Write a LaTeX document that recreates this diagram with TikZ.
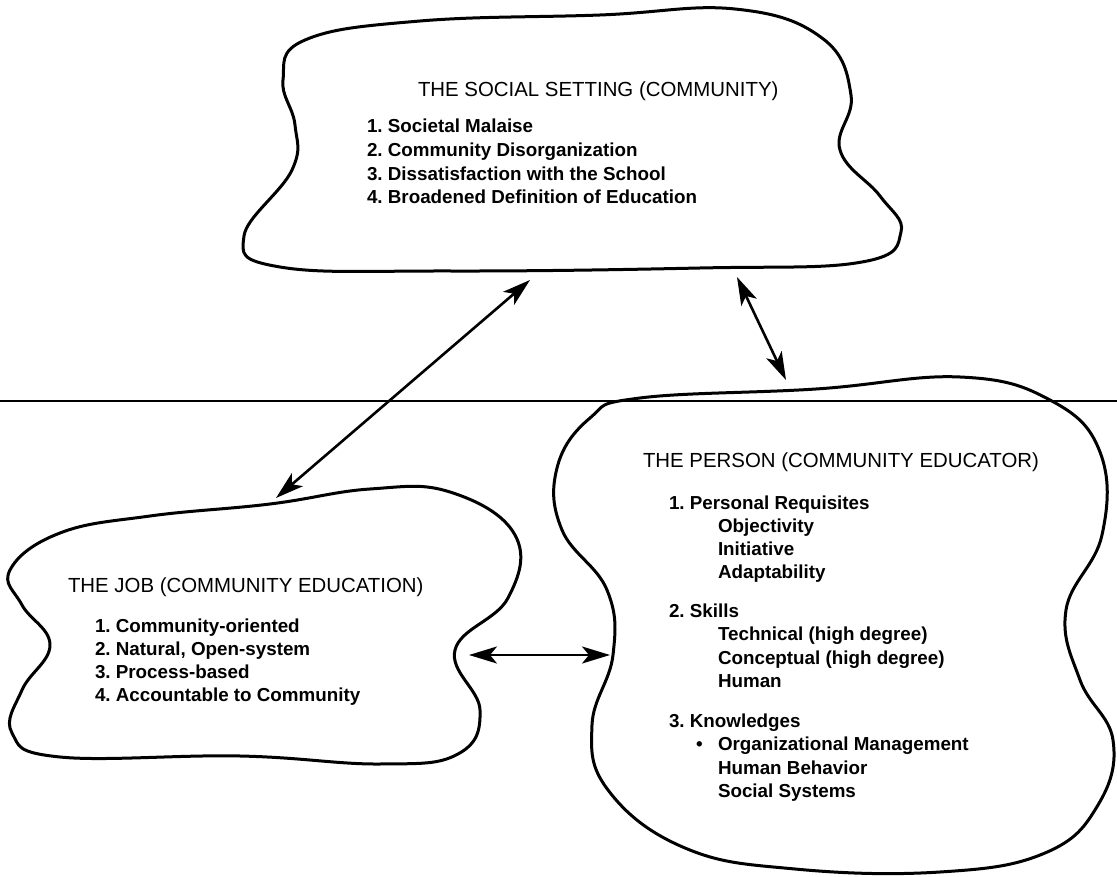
\documentclass[tikz,border=0pt]{standalone}
\usepackage{fontspec}
\setmainfont{Liberation Sans}
\usetikzlibrary{arrows.meta}

\begin{document}
\begin{tikzpicture}[x=1pt,y=-1pt]
    \tikzstyle{every node}=[inner sep=0,outer sep=0]
    \tikzstyle{cloud}=[line width=3pt,line join=round]
    \tikzstyle{heading}=[anchor=base west,font=\fontsize{20.4}{24}\selectfont]
    \tikzstyle{item}=[anchor=base west,font=\fontsize{18.8}{23}\selectfont\bfseries]
    \tikzstyle{link}=[<->,>={Stealth[length=28pt,width=17pt,inset=7pt]},line width=2.6pt]
    \useasboundingbox (0,0) rectangle (1117,877);

    % fold of the page
    \draw[line width=1.1pt] (0,401) -- (1117,401);

    % social setting
    \draw[cloud] plot[smooth cycle,tension=0.7] coordinates {
        (305,40) (420,21) (600,15) (735,9) (822,38) (851,95) (840,150)
        (880,196) (901,232) (862,262) (700,268) (450,271) (280,267)
        (244,236) (292,170) (295,125) (283,80)};
    \node[heading] (social) at (418,97) {THE SOCIAL SETTING (COMMUNITY)};
    \foreach \txt [count=\i] in {Societal Malaise, Community Disorganization,
        Dissatisfaction with the School, Broadened Definition of Education} {
        \node[item] (s\i) at (367, 133+23.6*\i-23.6) {\i.~\txt};
    }

    % job
    \draw[cloud] plot[smooth cycle,tension=0.7] coordinates {
        (10,570) (60,533) (150,516) (270,504) (370,489) (450,492)
        (515,535) (508,598) (455,650) (480,710) (458,754) (380,764)
        (240,756) (60,757) (12,733) (22,690) (50,645) (22,605)};
    \node[heading] (job) at (68,592) {THE JOB (COMMUNITY EDUCATION)};
    \foreach \txt [count=\i] in {Community-oriented, {Natural, Open-system},
        Process-based, Accountable to Community} {
        \node[item] (j\i) at (95, 632+23.3*\i-23.3) {\i.~\txt};
    }

    % person
    \draw[cloud] plot[smooth cycle,tension=0.7] coordinates {
        (640,398) (816,389) (960,377) (1050,400) (1100,452) (1102,535)
        (1066,610) (1080,680) (1113,740) (1098,805) (1045,853) (940,872)
        (795,869) (685,848) (608,790) (592,725) (613,655) (607,590)
        (562,530) (557,468) (590,418)};
    \node[heading] (person) at (643,467) {THE PERSON (COMMUNITY EDUCATOR)};
    \foreach \y/\x/\txt [count=\i] in {
        509/669/{1.~Personal Requisites}, 532/718/Objectivity,
        555/718/Initiative, 578/718/Adaptability,
        617/669/{2.~Skills}, 640/718/{Technical (high degree)},
        664/718/{Conceptual (high degree)}, 687/718/Human,
        727/669/{3.~Knowledges},
        750/696/{\makebox[22pt][l]{\textbullet}Organizational Management},
        774/718/{Human Behavior}, 797/718/{Social Systems}} {
        \node[item] (p\i) at (\x,\y) {\txt};
    }

    % links
    \coordinate (job-n) at (276,498);
    \coordinate (social-s) at (530,280);
    \coordinate (social-se) at (737,277);
    \coordinate (person-n) at (786,380);
    \coordinate (job-e) at (469,655);
    \coordinate (person-w) at (610,655);
    \draw[link] (job-n) -- (social-s);
    \draw[link] (social-se) -- (person-n);
    \draw[link] (job-e) -- (person-w);
\end{tikzpicture}
\end{document}
